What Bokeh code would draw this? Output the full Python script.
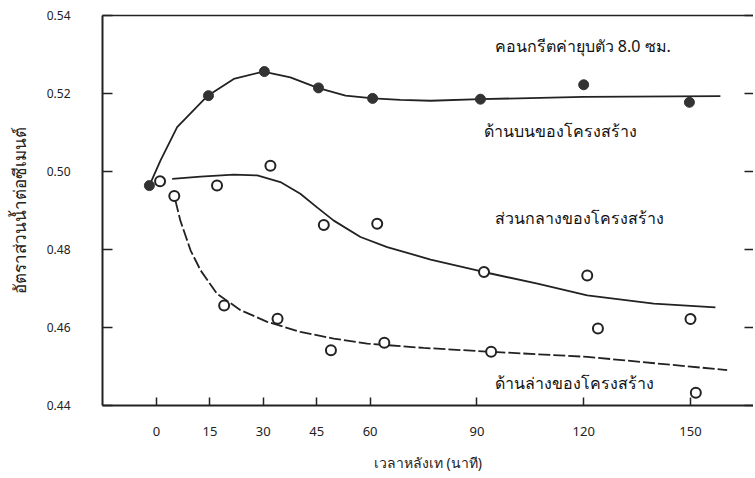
from bokeh.plotting import figure
from bokeh.models import LinearAxis, FixedTicker, Range1d, NumeralTickFormatter, CustomJSTickFormatter
from bokeh.core.properties import value
from bokeh.embed import file_html
from bokeh.resources import INLINE

# ---- data ----
x_ticks = [0, 15, 30, 45, 60, 90, 120, 150]
y_ticks = [0.44, 0.46, 0.48, 0.50, 0.52, 0.54]

# top of structure (filled markers)
top_t = [-2, 14.6, 30.3, 45.5, 60.7, 91, 120, 149.7]
top_v = [0.4964, 0.5195, 0.5257, 0.5215, 0.5188, 0.5186, 0.5223, 0.5178]
top_curve_t = [-2, 1.1, 5.8, 14.4, 21.7, 30, 37.6, 45.3, 53.1, 60.9, 68.5, 77, 91, 120, 158.4]
top_curve_v = [0.4964, 0.5028, 0.5114, 0.5195, 0.5238, 0.5257, 0.5242, 0.5215, 0.5195,
               0.5188, 0.5184, 0.5182, 0.5186, 0.5192, 0.5194]

# middle of structure (open markers)
mid_t = [1, 17, 32, 47, 62, 92, 121, 150]
mid_v = [0.4975, 0.4964, 0.5015, 0.4863, 0.4866, 0.4742, 0.4733, 0.4621]
mid_curve_t = [4.4, 12.4, 21.7, 28.3, 34.8, 40.4, 45.1, 49.8, 57.3, 64.8, 77, 91.9, 107, 121, 139.7, 157]
mid_curve_v = [0.4981, 0.4987, 0.4992, 0.4990, 0.4973, 0.4943, 0.4908, 0.4874, 0.4832,
               0.4806, 0.4774, 0.4742, 0.4712, 0.4682, 0.4661, 0.4651]

# bottom of structure (open markers)
bot_t = [5, 19, 34, 49, 64, 94, 124, 151.5]
bot_v = [0.4937, 0.4656, 0.4622, 0.4541, 0.4560, 0.4537, 0.4597, 0.4432]
bot_curve_t = [5.3, 6.7, 9.6, 12.4, 17, 23.6, 31.1, 40.4, 49.8, 59.2, 75, 93.8, 121, 160.3]
bot_curve_v = [0.4926, 0.4874, 0.4797, 0.4746, 0.4686, 0.4644, 0.4614, 0.4588, 0.4571,
               0.4558, 0.4547, 0.4537, 0.4524, 0.4490]

title_note = "คอนกรีตค่ายุบตัว  8.0  ซม."
lbl_top = "ด้านบนของโครงสร้าง"
lbl_mid = "ส่วนกลางของโครงสร้าง"
lbl_bot = "ด้านล่างของโครงสร้าง"
x_title = "เวลาหลังเท (นาที)"
y_title = "อัตราส่วนน้ำต่อซีเมนต์"

FONT = "Noto Sans"
INK = "#222222"

p = figure(width=753, height=476, output_backend="svg", toolbar_location=None,
           x_range=Range1d(-15.17, 167.7), y_range=Range1d(0.4399, 0.5401),
           min_border_left=102, min_border_right=0, min_border_top=15, min_border_bottom=71,
           background_fill_color="white", border_fill_color="white")
p.outline_line_color = None
p.grid.visible = False

# bottom axis
xa = p.xaxis[0]
xa.ticker = FixedTicker(ticks=x_ticks)
xa.major_tick_in = 8
xa.major_tick_out = 0
xa.minor_tick_line_color = None
xa.axis_line_width = 2
xa.axis_line_color = INK
xa.major_tick_line_color = INK
xa.major_tick_line_width = 1.5
xa.major_label_text_font = FONT
xa.major_label_text_font_size = "13px"
xa.major_label_text_color = INK
xa.major_label_standoff = 21
xa.axis_label = x_title
xa.axis_label_text_font = FONT
xa.axis_label_text_font_size = "14px"
xa.axis_label_text_font_style = "normal"
xa.axis_label_text_color = INK
xa.axis_label_standoff = 14

# left axis
ya = p.yaxis[0]
ya.ticker = FixedTicker(ticks=y_ticks)
ya.formatter = NumeralTickFormatter(format="0.00")
ya.major_tick_in = 10
ya.major_tick_out = 0
ya.minor_tick_line_color = None
ya.axis_line_width = 2
ya.axis_line_color = INK
ya.major_tick_line_color = INK
ya.major_tick_line_width = 1.5
ya.major_label_text_font = FONT
ya.major_label_text_font_size = "12px"
ya.major_label_text_color = INK
ya.major_label_standoff = 32
ya.axis_label = y_title
ya.axis_label_text_font = FONT
ya.axis_label_text_font_size = "17px"
ya.axis_label_text_font_style = "normal"
ya.axis_label_text_color = INK
ya.axis_label_standoff = 13

# right axis: inward ticks only, no labels
ra = LinearAxis(ticker=FixedTicker(ticks=y_ticks), major_tick_in=9, major_tick_out=0,
                minor_tick_line_color=None, axis_line_color=None,
                major_tick_line_color=INK, major_tick_line_width=1.5,
                formatter=CustomJSTickFormatter(code="return ''"),
                major_label_standoff=0)
p.add_layout(ra, "right")

# top axis: frame line only
ta = LinearAxis(ticker=FixedTicker(ticks=[]), major_tick_in=0, major_tick_out=0,
                minor_tick_line_color=None, axis_line_color=INK, axis_line_width=1.5,
                major_label_standoff=0)
p.add_layout(ta, "above")

# curves
p.line(top_curve_t, top_curve_v, line_color=INK, line_width=1.8)
p.line(mid_curve_t, mid_curve_v, line_color=INK, line_width=1.8)
p.line(bot_curve_t, bot_curve_v, line_color=INK, line_width=1.8, line_dash="12 3")

# markers
p.scatter(top_t, top_v, marker="circle", size=10, fill_color="#333333", line_color="#333333")
p.scatter(mid_t, mid_v, marker="circle", size=10, fill_color="white", line_color=INK, line_width=2)
p.scatter(bot_t, bot_v, marker="circle", size=10, fill_color="white", line_color=INK, line_width=2)

# annotations
for tx, ty, txt in [(95, 0.5323, title_note), (92, 0.5105, lbl_top),
                    (95, 0.4882, lbl_mid), (95, 0.4456, lbl_bot)]:
    p.text(x=[tx], y=[ty], text=[txt], text_font=value(FONT), text_font_size="16px",
           text_baseline="middle", text_align="left", text_color="#111111")

open("out.html", "w").write(file_html(p, INLINE))
